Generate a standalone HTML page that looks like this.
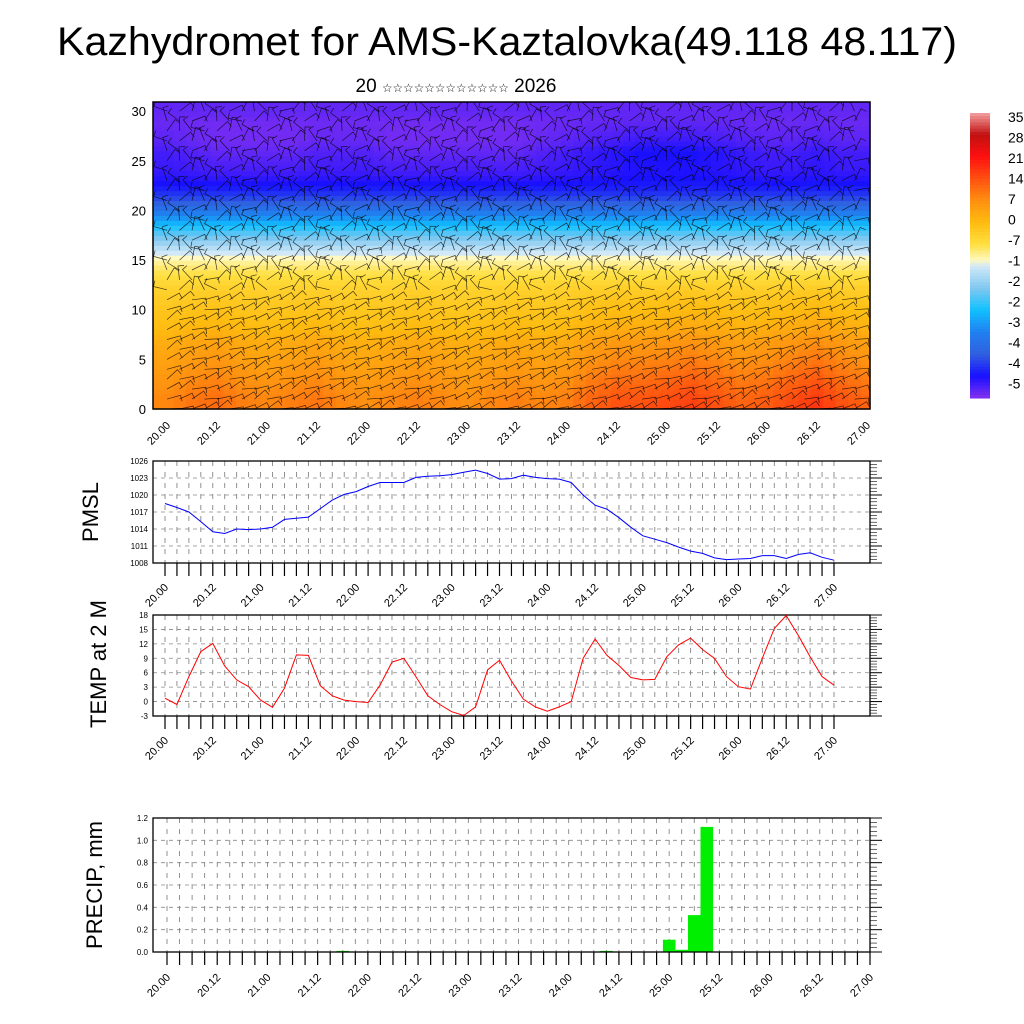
<!DOCTYPE html>
<html><head><meta charset="utf-8"><style>
html,body{margin:0;padding:0;background:#fff;width:1024px;height:1024px;overflow:hidden}
svg{display:block;font-family:"Liberation Sans",Arial,sans-serif}
</style></head><body>
<svg id="chart" width="1024" height="1024" viewBox="0 0 1024 1024" xmlns="http://www.w3.org/2000/svg">
<defs><clipPath id="topclip"><rect x="153" y="102" width="717" height="307"/></clipPath></defs>
<rect width="1024" height="1024" fill="#fff"/>
<text x="507" y="55" text-anchor="middle" font-size="40" textLength="900" lengthAdjust="spacingAndGlyphs">Kazhydromet for AMS-Kaztalovka(49.118 48.117)</text>
<text x="456" y="92" text-anchor="middle" font-size="19" font-family="'Liberation Sans','DejaVu Sans',sans-serif">20 <tspan font-size="11.8">☆☆☆☆☆☆☆☆☆☆☆☆</tspan> 2026</text>
<g id="heat"></g>
<g id="barbs" clip-path="url(#topclip)"></g>
<g id="axes"></g>
<g id="cbar"></g>
<text transform="translate(98,512) rotate(-90)" text-anchor="middle" font-size="22">PMSL</text>
<text transform="translate(106,664) rotate(-90)" text-anchor="middle" font-size="22">TEMP at 2 M</text>
<text transform="translate(102,885) rotate(-90)" text-anchor="middle" font-size="22">PRECIP, mm</text>
</svg>
<script>
// ---- data ----
const timeLabels = ["20.00","20.12","21.00","21.12","22.00","22.12","23.00","23.12","24.00","24.12","25.00","25.12","26.00","26.12","27.00"];
const pmsl = [1018.5,1017.8,1017.0,1015.3,1013.5,1013.2,1014.0,1013.9,1014.0,1014.3,1015.7,1015.9,1016.1,1017.6,1019.1,1020.1,1020.6,1021.5,1022.2,1022.2,1022.2,1023.1,1023.3,1023.4,1023.6,1024.0,1024.4,1023.8,1022.8,1022.9,1023.5,1023.1,1022.9,1022.8,1022.2,1020.0,1018.2,1017.5,1016.0,1014.3,1012.8,1012.2,1011.6,1010.8,1010.1,1009.7,1008.9,1008.6,1008.7,1008.8,1009.3,1009.3,1008.8,1009.5,1009.8,1009.0,1008.5];
const t2m = [0.7,-0.6,5.2,10.4,12.1,7.4,4.5,3.1,0.3,-1.2,2.8,9.7,9.6,3.3,1.2,0.3,0.0,-0.2,3.4,8.2,9.0,5.2,1.2,-0.6,-2.1,-2.9,-1.1,6.6,8.6,4.3,0.5,-1.1,-2.0,-1.1,0.0,9.0,13.0,9.6,7.5,5.0,4.5,4.6,9.3,11.8,13.2,10.8,9.0,5.2,3.1,2.6,9.0,15.2,17.9,13.8,9.3,5.2,3.4];
const precipHours = [42,105,120,123,126,129];
const precipValues = [0.01,0.01,0.11,0.02,0.33,1.12];
const pmslTicks = [1008,1011,1014,1017,1020,1023,1026];
const tempTicks = [-3,0,3,6,9,12,15,18];
const precipTicks = [0.0,0.2,0.4,0.6,0.8,1.0,1.2];
const levelTicks = [0,5,10,15,20,25,30];
const profileTemp = [8,8,7,6,5,4,3,2,0,-1,-2,-3,-4,-6,-8,-11,-15,-20,-25,-31,-37,-43,-47,-50,-52,-53,-54,-55,-55,-55,-54];
const surfaceAnom = [0,2,3,1,0,1,2,0,-1,0,1,0,-1,0,1,0,1,4,6,6,7,8,6,4,5,7,9,6,4];
const upperAnom = [2,1,0,0,0,0,1,1,1,0,0,0,0,0,0,1,2,3,4,5,5,5,4,3,2,2,3,2,2];
const cbarLabels = ["35","28","21","14","7","0","-7","-1","-2","-2","-3","-4","-4","-5"];

const NS="http://www.w3.org/2000/svg";
function mk(tag,attrs,parent){const e=document.createElementNS(NS,tag);for(const k in attrs)e.setAttribute(k,attrs[k]);(parent||document.getElementById('axes')).appendChild(e);return e;}

const stops=[[-56,[128,48,240]],[-49,[24,16,255]],[-42,[48,96,224]],[-35,[32,128,240]],[-28,[16,192,255]],[-21,[128,200,240]],[-14,[208,232,248]],[-12,[255,248,192]],[-7,[255,224,64]],[0,[255,187,16]],[7,[255,144,16]],[14,[255,80,16]],[21,[255,16,16]],[28,[192,16,16]],[35,[244,160,160]]];
function col(v){v=Math.max(-56,Math.min(35,v));for(let i=0;i<stops.length-1;i++){const a=stops[i],b=stops[i+1];if(v<=b[0]){const f=(v-a[0])/(b[0]-a[0]);const c=a[1].map((x,j)=>Math.round(x+(b[1][j]-x)*f));return `rgb(${c})`;}}return 'rgb(244,160,160)';}

// ---- top panel ----
const T={x0:153,x1:870,y0:102,y1:409};
const tx=h=>167+h*700/168;
const ty=z=>409-z*9.93;
const heat=document.getElementById('heat');
function interp(arr,h){const p=h/6;const i=Math.min(arr.length-2,Math.floor(p));const f=p-i;return arr[i]*(1-f)+arr[i+1]*f;}
function interpZ(z){const i=Math.min(29,Math.floor(z));const f=z-i;return profileTemp[i]*(1-f)+profileTemp[i+1]*f;}
for(let c=-1;c<=56;c++){
  const h=Math.max(0,Math.min(168,c*3));
  const xa=Math.max(T.x0,tx(c*3-1.5)),xb=Math.min(T.x1,tx(c*3+1.5));
  if(xb<=xa)continue;
  for(let r=0;r<62;r++){
    const z=r*0.5+0.25;
    let v=interpZ(Math.min(30,z))+interp(surfaceAnom,h)*Math.max(0,1-z/14)+interp(upperAnom,h)*Math.max(0,1-Math.abs(z-26)/4);
    const ya=Math.max(T.y0,ty(r*0.5+0.5)),yb=ty(r*0.5);
    const cell=mk('rect',{x:xa.toFixed(1),y:ya.toFixed(1),width:(xb-xa+0.6).toFixed(1),height:(yb-ya+0.6).toFixed(1),fill:col(v)},heat);
    
    
  }
}
const barbs=document.getElementById('barbs');
for(let i=0;i<57;i++){for(let k=0;k<31;k++){
  const x=tx(i*3),y=ty(k);if(x>T.x1-4)continue;
  const a=((i*37+k*53)%160+10)*Math.PI/180*(k<12?0.25:1);
  const L=14;
  const x2=x+L*Math.cos(a),y2=y-L*Math.sin(a);
  const b=mk('path',{d:`M${x.toFixed(1)},${y.toFixed(1)}L${x2.toFixed(1)},${y2.toFixed(1)}l${(6*Math.sin(a)).toFixed(1)},${(6*Math.cos(a)).toFixed(1)}`,fill:'none',stroke:'#000','stroke-width':0.7,'stroke-opacity':0.75},barbs);
  
  
}}
const tf=mk('rect',{x:T.x0,y:T.y0,width:T.x1-T.x0,height:T.y1-T.y0,fill:'none',stroke:'#000','stroke-width':1.5});


levelTicks.forEach(v=>{const t=mk('text',{x:146,y:ty(v)+5,'text-anchor':'end','font-size':13});t.textContent=v;
 });
function xLabels(xf,ybase,fs){timeLabels.forEach((s,i)=>{const x=xf(i*12);const t=mk('text',{transform:`translate(${x+4},${ybase}) rotate(-45)`,'text-anchor':'end','font-size':fs});t.textContent=s;
 });}
xLabels(tx,426,11);

// ---- line panels ----
const px=h=>165+h*669/168;
function linePanel(name,y0,y1,vmin,vmax,ticks,data,color){
  const py=v=>y1-(v-vmin)/(vmax-vmin)*(y1-y0);
  const g=mk('g',{});
  ticks.forEach(v=>{mk('line',{x1:153,x2:870,y1:py(v),y2:py(v),stroke:'#888','stroke-dasharray':'4,4','stroke-width':0.8},g);
    mk('line',{x1:870,x2:882,y1:py(v),y2:py(v),stroke:'#000','stroke-width':1},g);
    const t=mk('text',{x:148,y:py(v)+3,'text-anchor':'end','font-size':8},g);t.textContent=v;
    });
  for(let i=0;i<ticks.length-1;i++)for(let m=1;m<5;m++){const v=ticks[i]+(ticks[i+1]-ticks[i])*m/5;mk('line',{x1:870,x2:877,y1:py(v),y2:py(v),stroke:'#000','stroke-width':0.6},g);}
  for(let h=0;h<=168;h+=3){mk('line',{x1:px(h),x2:px(h),y1:y0,y2:y1,stroke:'#777','stroke-dasharray':'5,6','stroke-width':0.8},g);
    mk('line',{x1:px(h),x2:px(h),y1:y1,y2:y1+13,stroke:'#000','stroke-width':1.2},g);}
  mk('rect',{x:153,y:y0,width:717,height:y1-y0,fill:'none',stroke:'#000','stroke-width':1.3},g);
  const pts=data.map((v,i)=>px(i*3).toFixed(1)+','+py(v).toFixed(1)).join(' ');
  const l=mk('polyline',{points:pts,fill:'none',stroke:color,'stroke-width':1},g);
  
  xLabels(px,y1+25,11);
}
linePanel('pmsl',461,563,1008,1026,pmslTicks,pmsl,'#0000ff');
linePanel('temp',615,716,-3,18,tempTicks,t2m,'#ff0000');

// ---- precip ----
const qx=h=>167+h*703/168;
const qy=v=>952-v/1.2*134;
(function(){
  const g=mk('g',{});
  precipTicks.forEach(v=>{mk('line',{x1:153,x2:870,y1:qy(v),y2:qy(v),stroke:'#888','stroke-dasharray':'4,4','stroke-width':0.8},g);
    mk('line',{x1:870,x2:882,y1:qy(v),y2:qy(v),stroke:'#000','stroke-width':1},g);
    const t=mk('text',{x:148,y:qy(v)+3,'text-anchor':'end','font-size':8},g);t.textContent=v.toFixed(1);
    });
  for(let i=0;i<6;i++)for(let m=1;m<5;m++){const v=0.2*i+0.04*m;mk('line',{x1:870,x2:877,y1:qy(v),y2:qy(v),stroke:'#000','stroke-width':0.6},g);}
  for(let h=0;h<=168;h+=3){const x=qx(h);if(x<870)mk('line',{x1:x,x2:x,y1:818,y2:952,stroke:'#777','stroke-dasharray':'5,6','stroke-width':0.8},g);
    mk('line',{x1:x,x2:x,y1:952,y2:965,stroke:'#000','stroke-width':1.2},g);}
  precipHours.forEach((h,i)=>{const w=703/56;const b=mk('rect',{x:(qx(h)-w/2).toFixed(1),y:qy(precipValues[i]).toFixed(1),width:w.toFixed(1),height:(952-qy(precipValues[i])).toFixed(1),fill:'#00ee00'},g);
    });
  mk('rect',{x:153,y:818,width:717,height:134,fill:'none',stroke:'#000','stroke-width':1.3},g);
  xLabels(qx,978,11);
})();

// ---- colorbar ----
const cb=document.getElementById('cbar');
for(let i=0;i<91;i++){const v=35-i-0.5;const y=113+i*285/91;mk('rect',{x:970,y:y.toFixed(1),width:20,height:(285/91+0.5).toFixed(2),fill:col(v)},cb);}
cbarLabels.forEach((s,i)=>{const t=mk('text',{x:1008,y:122+i*20.5,'font-size':14},cb);t.textContent=s;
 });
</script>
</body></html>
